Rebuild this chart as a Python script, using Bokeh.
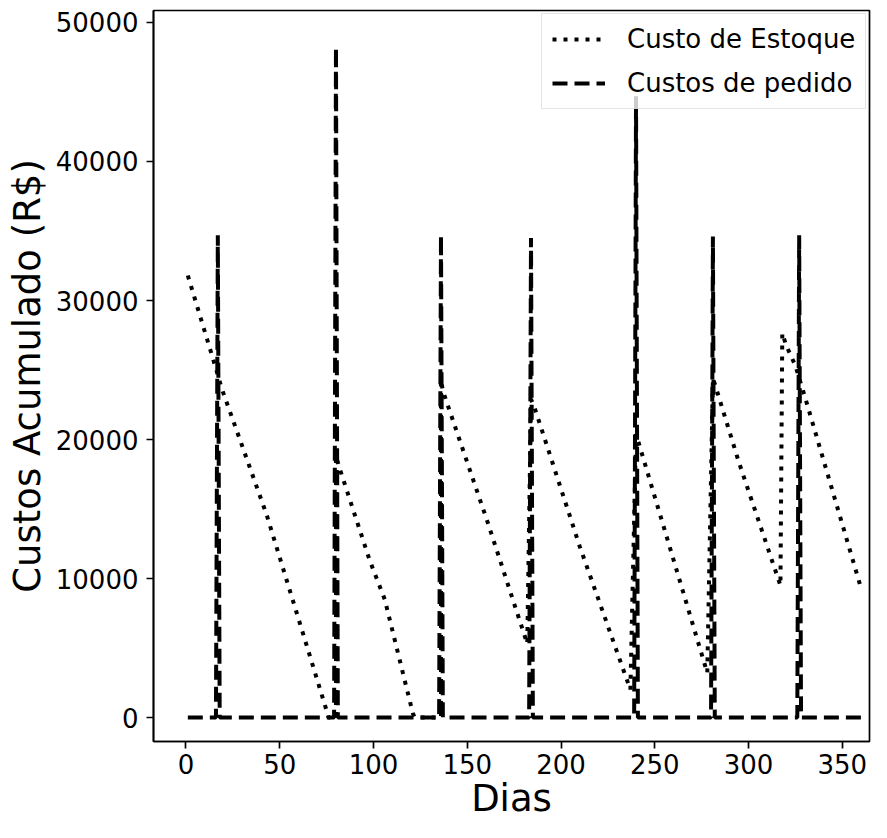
from bokeh.plotting import figure
from bokeh.models import Legend, LegendItem, FixedTicker, BasicTickFormatter, Range1d
from bokeh.embed import file_html
from bokeh.resources import INLINE

# ---- data ----
stock_days = [1, 16, 19, 43, 75, 76, 80, 80, 82, 98, 106, 121, 122, 136, 136, 137, 161, 182,
              184, 186, 210, 237, 240, 278, 281, 282, 295, 317, 318, 320, 325, 330, 360]
stock_vals = [31800, 25100, 23700, 14600, 500, 0, 0, 18800, 17900, 11300, 8500, 300, 0, 0, 24300,
              23500, 14000, 5300, 22900, 22250, 12300, 2000, 20400, 3200, 24400, 24000, 18300,
              9500, 27650, 26800, 25300, 23100, 9300]

order_days = [1, 16, 17, 18, 79, 80, 81, 135, 136, 137, 183, 184, 185, 239, 240, 241,
              280, 281, 282, 326, 327, 328, 360]
order_vals = [0, 0, 34700, 0, 0, 48200, 0, 0, 34700, 0, 0, 34500, 0, 0, 44700, 0,
              0, 34600, 0, 0, 34700, 0, 0]

x_ticks = [0, 50, 100, 150, 200, 250, 300, 350]
y_ticks = [0, 10000, 20000, 30000, 40000, 50000]
series_labels = ["Custo de Estoque", "Custos de pedido"]
x_label = "Dias"
y_label = "Custos Acumulado (R$)"

FONT = "DejaVu Sans"

p = figure(width=871, height=822, output_backend="svg", toolbar_location=None,
           x_range=Range1d(-17.3, 364.5), y_range=Range1d(-1724, 50862),
           min_border_left=153, min_border_right=2, min_border_top=10, min_border_bottom=80)

p.xgrid.visible = False
p.ygrid.visible = False
p.outline_line_color = "black"
p.outline_line_width = 1.7
p.outline_line_alpha = 1.0
p.background_fill_color = "white"
p.border_fill_color = "white"

r1 = p.line(stock_days, stock_vals, line_color="black", line_width=4, line_dash="4 7")
r2 = p.line(order_days, order_vals, line_color="black", line_width=4, line_dash="15 7")

p.xaxis.ticker = FixedTicker(ticks=x_ticks)
p.yaxis.ticker = FixedTicker(ticks=y_ticks)
p.yaxis.formatter = BasicTickFormatter(use_scientific=False)
p.xaxis.axis_label = x_label
p.yaxis.axis_label = y_label
for ax in (p.xaxis, p.yaxis):
    ax.axis_line_color = "black"
    ax.axis_line_width = 1.7
    ax.major_tick_line_color = "black"
    ax.major_tick_line_width = 1.7
    ax.major_tick_out = 7
    ax.major_tick_in = 0
    ax.minor_tick_line_color = None
    ax.major_label_text_font = FONT
    ax.major_label_text_font_size = "26px"
    ax.major_label_text_color = "black"
    ax.axis_label_text_font = FONT
    ax.axis_label_text_font_size = "37px"
    ax.axis_label_text_font_style = "normal"
    ax.axis_label_text_color = "black"
p.xaxis.major_label_standoff = 5
p.xaxis.axis_label_standoff = 0
p.yaxis.major_label_standoff = 8
p.yaxis.axis_label_standoff = 4

legend = Legend(items=[LegendItem(label=series_labels[0], renderers=[r1]),
                       LegendItem(label=series_labels[1], renderers=[r2])],
                location=(388, 632), orientation="vertical")
legend.border_line_color = "#cccccc"
legend.border_line_width = 1.5
legend.background_fill_color = "white"
legend.background_fill_alpha = 0.8
legend.label_text_font = FONT
legend.label_text_font_size = "26px"
legend.label_text_color = "black"
legend.glyph_width = 53
legend.glyph_height = 26
legend.label_height = 26
legend.spacing = 14
legend.padding = 10
legend.label_standoff = 22
legend.margin = 0
p.add_layout(legend)

open("out.html", "w").write(file_html(p, INLINE))
